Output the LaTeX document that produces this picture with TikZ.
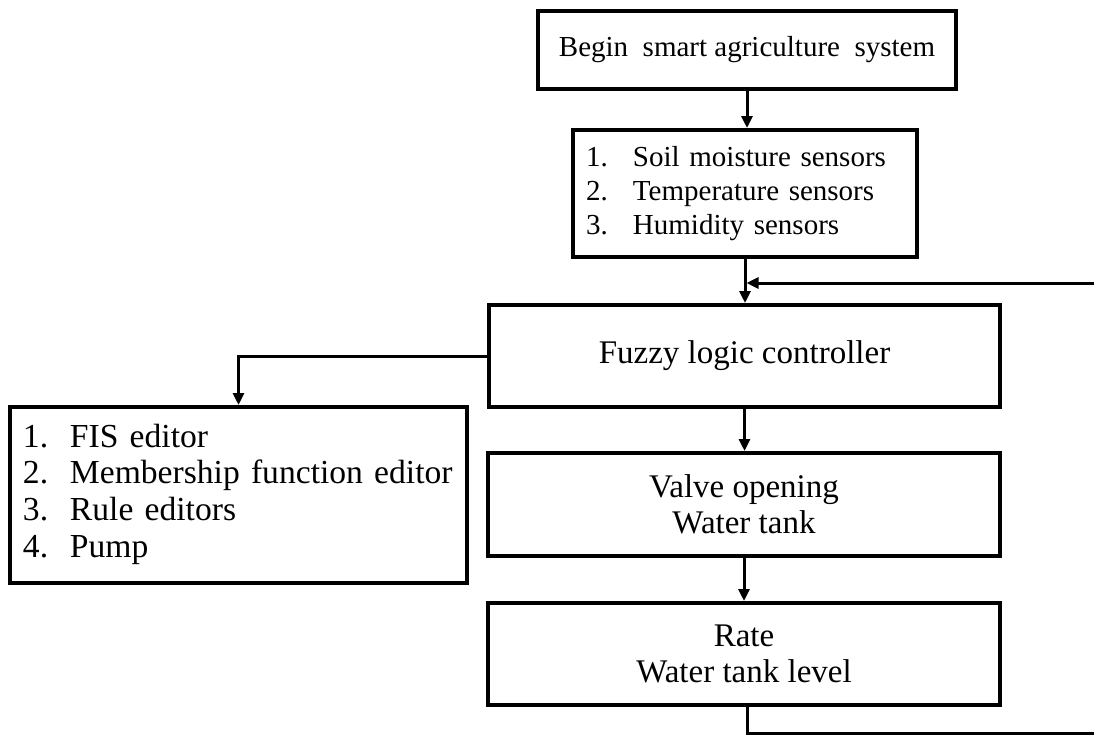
\documentclass[tikz,border=0pt]{standalone}
\usepackage{fontspec}
\setmainfont{Liberation Serif}
\usetikzlibrary{arrows.meta}
\newcommand{\fsA}{\fontsize{29}{34}\selectfont}
\newcommand{\fsB}{\fontsize{33}{36.5}\selectfont}
\newcommand{\fsC}{\fontsize{33.6}{36.7}\selectfont}
\newcommand{\itm}[1]{\makebox[47pt][l]{#1}}
\begin{document}
\begin{tikzpicture}[x=1pt,y=-1pt,
  box/.style={draw, line width=4pt, inner sep=0pt, align=center},
  listbox/.style={box, align=left, inner xsep=13pt},
  conn/.style={line width=3pt},
  arr/.style={conn, -{Triangle[length=12pt,width=11pt]}}]
\useasboundingbox (0,0) rectangle (1094,736);
\node[box, minimum width=418pt, minimum height=78pt, font=\fsA] (b1) at (747,50) {Begin~~smart agriculture~~system};
\node[listbox, minimum width=344pt, minimum height=127pt, text width=318pt, font=\fsA] (b2) at (745,193.5)
  {\begin{tabular}{@{}l@{}}\itm{1.}Soil moisture sensors\\\itm{2.}Temperature sensors\\\itm{3.}Humidity sensors\end{tabular}};
\node[box, minimum width=511pt, minimum height=102pt, font=\fsB] (b3) at (744.5,356) {Fuzzy logic controller};
\node[listbox, minimum width=457pt, minimum height=176pt, text width=431pt, font=\fsC] (b4) at (238.5,495)
  {\begin{tabular}{@{}l@{}}\itm{1.}FIS editor\\\itm{2.}Membership function editor\\\itm{3.}Rule editors\\\itm{4.}Pump\end{tabular}};
\node[box, minimum width=512pt, minimum height=103pt, font=\fsB] (b5) at (744,504.5) {Valve opening\\Water tank};
\node[box, minimum width=512pt, minimum height=102pt, font=\fsB] (b6) at (744,654) {Rate\\Water tank level};
\coordinate (c1) at (747,733);
\coordinate (c2) at (1097,733);
\coordinate (c3) at (1097,283);
\draw[arr] (b1.south) -- (b1.south |- b2.north);
\draw[arr] (b2.south) -- (b2.south |- b3.north);
\draw[arr] (b3.west) -| (b4.north);
\draw[arr] (b3.south) -- (b3.south |- b5.north);
\draw[arr] (b5.south) -- (b5.south |- b6.north);
\draw[arr, shorten >=1.5pt] (b6.south -| c1) -- (c1) -- (c2) -- (c3) -- (b2.south |- c3);
\end{tikzpicture}
\end{document}
